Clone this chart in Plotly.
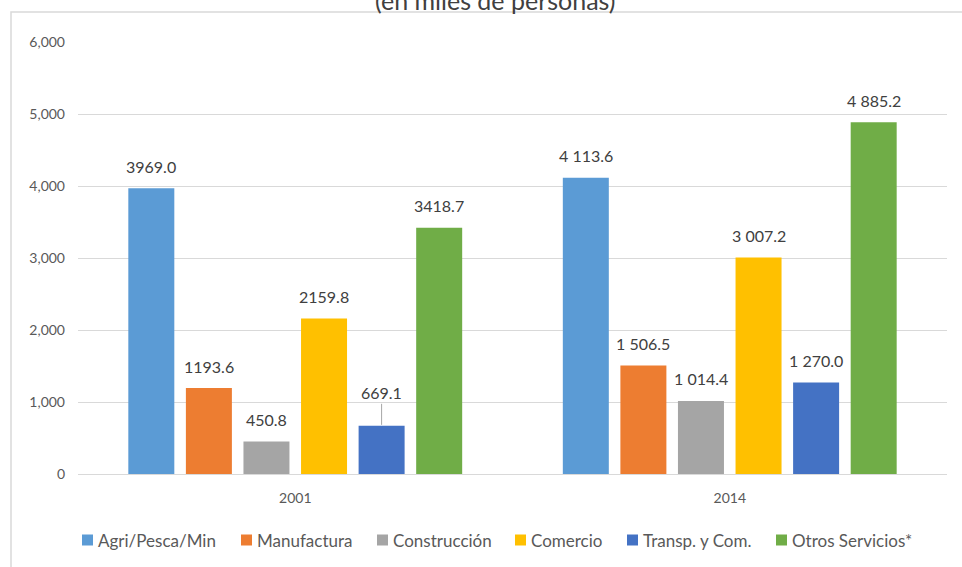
import plotly.graph_objects as go

# Población ocupada por rama de actividad (miles de personas)
years = ["2001", "2014"]
sectors = ["Agri/Pesca/Min", "Manufactura", "Construcción", "Comercio",
           "Transp. y Com.", "Otros Servicios*"]
values = {
    "Agri/Pesca/Min": [3969.0, 4113.6],
    "Manufactura": [1193.6, 1506.5],
    "Construcción": [450.8, 1014.4],
    "Comercio": [2159.8, 3007.2],
    "Transp. y Com.": [669.1, 1270.0],
    "Otros Servicios*": [3418.7, 4885.2],
}
value_labels = {
    "Agri/Pesca/Min": ["3969.0", "4 113.6"],
    "Manufactura": ["1193.6", "1 506.5"],
    "Construcción": ["450.8", "1 014.4"],
    "Comercio": ["2159.8", "3 007.2"],
    "Transp. y Com.": ["669.1", "1 270.0"],
    "Otros Servicios*": ["3418.7", "4 885.2"],
}
colors = ["#5B9BD5", "#ED7D31", "#A5A5A5", "#FFC000", "#4472C4", "#70AD47"]
y_ticks = [0, 1000, 2000, 3000, 4000, 5000, 6000]

W, H = 962, 567
M_L, M_R, M_T, M_B = 78, 15, 42, 93
plot_w = W - M_L - M_R
plot_h = H - M_T - M_B
BARGAP = 0.205
GROUPGAP = 0.201
FONT = "Lato"


def px_x(p):
    return (p - M_L) / plot_w


def px_y(p):
    return (H - M_B - p) / plot_h


fig = go.Figure()
for name, col in zip(sectors, colors):
    fig.add_trace(go.Bar(
        name=name, x=years, y=values[name],
        marker=dict(color=col, line=dict(width=0)),
        hoverinfo="skip", showlegend=False,
    ))

# data labels above each bar (x given as category index)
cat_w = plot_w / len(years)
slot = cat_w * (1 - BARGAP) / len(sectors)
annotations = []
for i, name in enumerate(sectors):
    dx = (i - (len(sectors) - 1) / 2) * slot
    for j, yr in enumerate(years):
        v = values[name][j]
        txt = value_labels[name][j]
        if name == "Transp. y Com." and yr == "2001":
            annotations.append(dict(
                x=j, y=v, xref="x", yref="y", xshift=dx, text=txt,
                showarrow=True, arrowhead=0, arrowwidth=1, arrowcolor="#A6A6A6",
                ax=0, ay=-33, standoff=1,
                font=dict(family=FONT, size=16, color="#404040"),
            ))
        else:
            annotations.append(dict(
                x=j, y=v, xref="x", yref="y", xshift=dx, yshift=22,
                text=txt, showarrow=False, yanchor="middle",
                font=dict(family=FONT, size=16, color="#404040"),
            ))

# chart subtitle, partly above the visible area
annotations.append(dict(
    x=px_x(495), y=px_y(0), xref="paper", yref="paper",
    xanchor="center", yanchor="middle",
    text="(en miles de personas)", showarrow=False,
    font=dict(family=FONT, size=25, color="#404040"),
))

# legend: colour square followed by its label
legend_x = [82, 241, 377, 515, 627, 776]
legend_y = 540
shapes = []
for name, col, lx in zip(sectors, colors, legend_x):
    shapes.append(dict(
        type="rect", xref="paper", yref="paper",
        x0=px_x(lx), x1=px_x(lx + 11),
        y0=px_y(legend_y + 5.5), y1=px_y(legend_y - 5.5),
        fillcolor=col, line=dict(width=0),
    ))
    annotations.append(dict(
        x=px_x(lx + 14), y=px_y(legend_y), xref="paper", yref="paper",
        xanchor="left", yanchor="middle", text=name, showarrow=False,
        font=dict(family=FONT, size=17, color="#595959"),
    ))

# outer chart frame
shapes.append(dict(
    type="rect", xref="paper", yref="paper",
    x0=px_x(11), x1=px_x(W + 20), y0=px_y(H + 20), y1=px_y(12),
    line=dict(color="#D9D9D9", width=1.5), fillcolor="rgba(0,0,0,0)",
    layer="below",
))

fig.update_layout(
    width=W, height=H,
    margin=dict(l=M_L, r=M_R, t=M_T, b=M_B),
    paper_bgcolor="white", plot_bgcolor="white",
    barmode="group", bargap=BARGAP, bargroupgap=GROUPGAP,
    font=dict(family=FONT, color="#595959"),
    annotations=annotations,
    shapes=shapes,
    showlegend=False,
)
fig.update_yaxes(
    range=[0, 6000], tickvals=y_ticks, tickformat=",",
    showgrid=True, gridcolor="#D9D9D9", gridwidth=1,
    zeroline=False, showline=False, ticks="",
    ticklabelstandoff=12,
    tickfont=dict(family=FONT, size=14, color="#595959"),
)
fig.update_xaxes(
    type="category", categoryorder="array", categoryarray=years,
    range=[-0.5, len(years) - 0.5], autorange=False,
    showline=True, linecolor="#D9D9D9", linewidth=1, ticks="",
    ticklabelstandoff=11,
    tickfont=dict(family=FONT, size=14, color="#595959"),
)

fig.write_html("out.html")
